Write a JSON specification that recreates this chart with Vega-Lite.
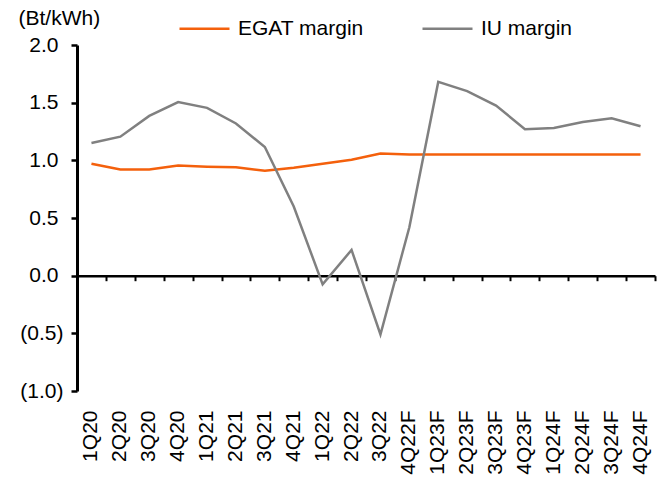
{
  "$schema": "https://vega.github.io/schema/vega-lite/v6.json",
  "autosize": "none",
  "width": 578,
  "height": 346,
  "padding": {"left": 77, "top": 45, "right": 6, "bottom": 86},
  "background": "white",
  "config": {
    "view": {"stroke": null},
    "font": "Liberation Sans",
    "axis": {"labelFont": "Liberation Sans", "titleFont": "Liberation Sans", "labelColor": "black", "titleColor": "black", "grid": false},
    "legend": {"labelFont": "Liberation Sans"}
  },
  "data": {
    "values": [
      {"q": "1Q20", "s": "EGAT margin", "v": 0.97},
      {"q": "2Q20", "s": "EGAT margin", "v": 0.92},
      {"q": "3Q20", "s": "EGAT margin", "v": 0.92},
      {"q": "4Q20", "s": "EGAT margin", "v": 0.955},
      {"q": "1Q21", "s": "EGAT margin", "v": 0.945},
      {"q": "2Q21", "s": "EGAT margin", "v": 0.94},
      {"q": "3Q21", "s": "EGAT margin", "v": 0.91},
      {"q": "4Q21", "s": "EGAT margin", "v": 0.935},
      {"q": "1Q22", "s": "EGAT margin", "v": 0.97},
      {"q": "2Q22", "s": "EGAT margin", "v": 1.005},
      {"q": "3Q22", "s": "EGAT margin", "v": 1.06},
      {"q": "4Q22F", "s": "EGAT margin", "v": 1.05},
      {"q": "1Q23F", "s": "EGAT margin", "v": 1.05},
      {"q": "2Q23F", "s": "EGAT margin", "v": 1.05},
      {"q": "3Q23F", "s": "EGAT margin", "v": 1.05},
      {"q": "4Q23F", "s": "EGAT margin", "v": 1.05},
      {"q": "1Q24F", "s": "EGAT margin", "v": 1.05},
      {"q": "2Q24F", "s": "EGAT margin", "v": 1.05},
      {"q": "3Q24F", "s": "EGAT margin", "v": 1.05},
      {"q": "4Q24F", "s": "EGAT margin", "v": 1.05},
      {"q": "1Q20", "s": "IU margin", "v": 1.15},
      {"q": "2Q20", "s": "IU margin", "v": 1.205},
      {"q": "3Q20", "s": "IU margin", "v": 1.385},
      {"q": "4Q20", "s": "IU margin", "v": 1.505},
      {"q": "1Q21", "s": "IU margin", "v": 1.455},
      {"q": "2Q21", "s": "IU margin", "v": 1.32},
      {"q": "3Q21", "s": "IU margin", "v": 1.115},
      {"q": "4Q21", "s": "IU margin", "v": 0.6},
      {"q": "1Q22", "s": "IU margin", "v": -0.075},
      {"q": "2Q22", "s": "IU margin", "v": 0.223},
      {"q": "3Q22", "s": "IU margin", "v": -0.51},
      {"q": "4Q22F", "s": "IU margin", "v": 0.42},
      {"q": "1Q23F", "s": "IU margin", "v": 1.68},
      {"q": "2Q23F", "s": "IU margin", "v": 1.6},
      {"q": "3Q23F", "s": "IU margin", "v": 1.475},
      {"q": "4Q23F", "s": "IU margin", "v": 1.27},
      {"q": "1Q24F", "s": "IU margin", "v": 1.28},
      {"q": "2Q24F", "s": "IU margin", "v": 1.333},
      {"q": "3Q24F", "s": "IU margin", "v": 1.365},
      {"q": "4Q24F", "s": "IU margin", "v": 1.296}
    ]
  },
  "encoding": {
    "y": {
      "field": "v", "type": "quantitative",
      "scale": {"domain": [-1, 2], "nice": false, "zero": false},
      "axis": {
        "values": [-1, -0.5, 0, 0.5, 1, 1.5, 2],
        "labelExpr": "datum.value < 0 ? '(' + format(-datum.value, '.1f') + ')' : format(datum.value, '.1f')",
        "labelFontSize": 21,
        "labelPadding": {"condition": {"test": "datum.value < 0", "value": 8}, "value": 13},
        "domainColor": "#000000", "domainWidth": 3, "domainOpacity": 1,
        "tickColor": "#000000", "tickWidth": 2.5, "tickSize": 6, "tickOpacity": 1,
        "title": "(Bt/kWh)", "titleAngle": 0, "titleFontSize": 21, "titleFontWeight": "normal",
        "titleAlign": "left", "titleBaseline": "middle", "titleX": -59, "titleY": -27
      }
    }
  },
  "layer": [
    {
      "mark": {"type": "line", "strokeWidth": 2.5},
      "encoding": {
        "x": {
          "field": "q", "type": "ordinal", "sort": null,
          "scale": {"type": "band", "paddingInner": 0, "paddingOuter": 0},
          "axis": {"orient": "bottom", "title": null, "domain": false, "ticks": false, "labelAngle": -90, "labelFontSize": 21, "labelPadding": 19}
        },
        "color": {
          "field": "s", "type": "nominal",
          "scale": {"domain": ["EGAT margin", "IU margin"], "range": ["#F4600C", "#808080"]},
          "legend": {
            "title": null, "orient": "none", "direction": "horizontal", "legendX": 101, "legendY": -43,
            "symbolType": "stroke", "symbolSize": 2500, "symbolStrokeWidth": 2.5,
            "labelFontSize": 21, "labelOffset": 7, "columnPadding": 53, "labelColor": "black", "labelLimit": 300
          }
        }
      }
    },
    {
      "mark": {"type": "line", "opacity": 0},
      "encoding": {
        "x": {
          "field": "q", "type": "ordinal", "sort": null,
          "scale": {"type": "band", "paddingInner": 0, "paddingOuter": 0},
          "axis": {"orient": "bottom", "title": null, "labels": false, "offset": -115.3, "domainColor": "black", "domainWidth": 2.5, "tickColor": "black", "tickWidth": 2, "tickSize": 5, "tickBand": "extent"}
        },
        "detail": {"field": "s"}
      }
    }
  ],
  "resolve": {"axis": {"x": "independent"}}
}
